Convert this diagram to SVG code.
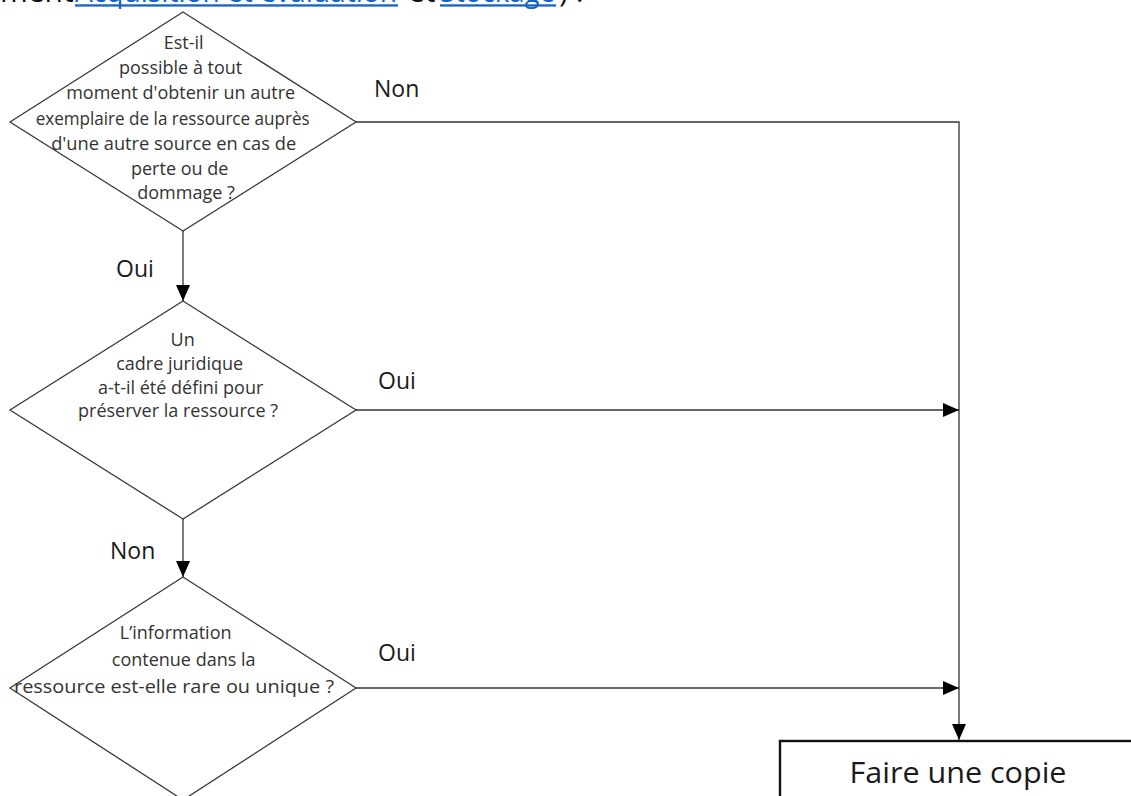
<svg xmlns="http://www.w3.org/2000/svg" width="1131" height="796" viewBox="0 0 1131 796">
  <style>
    .shape { fill: #ffffff; stroke: #3a3a3a; stroke-width: 1.3; }
    .box { fill: #ffffff; stroke: #111111; stroke-width: 2.4; }
    .q { font-family: "Open Sans", "Liberation Sans", sans-serif; font-size: 18px; fill: #333333; text-anchor: middle; }
    .lbl { font-family: "Open Sans", "Liberation Sans", sans-serif; font-size: 23px; fill: #1a1a1a; }
    .big { font-family: "Open Sans", "Liberation Sans", sans-serif; font-size: 30px; fill: #1a1a1a; text-anchor: middle; }
    .top { font-family: "Open Sans", "Liberation Sans", sans-serif; font-size: 30px; fill: #111111; }
    .link { fill: #1565c0; }
    .edge { fill: none; stroke: #333333; stroke-width: 1.3; }
  </style>
  <defs>
    <marker id="arrow" viewBox="0 0 16 14" refX="16" refY="7" markerWidth="16" markerHeight="14" markerUnits="userSpaceOnUse" orient="auto">
      <path d="M0,0 L16,7 L0,14 Z" fill="#000000"/>
    </marker>
  </defs>

  <rect width="1131" height="796" fill="#ffffff"/>

  <!-- running text above the chart, clipped by the top edge -->
  <g id="header">
    <text class="top" x="0" y="2">ment</text>
    <text class="top link" x="75" y="2" textLength="322" lengthAdjust="spacingAndGlyphs">Acquisition et évaluation</text>
    <rect class="link" x="75" y="4.3" width="323" height="2.3"/>
    <text class="top" x="408" y="2">et</text>
    <text class="top link" x="440" y="2" textLength="115" lengthAdjust="spacingAndGlyphs">Stockage</text>
    <rect class="link" x="440" y="4.3" width="116" height="2.3"/>
    <text class="top" x="559" y="2">) :</text>
  </g>

  <!-- decision 1 -->
  <g id="q1">
    <polygon class="shape" points="183,12 356,122 183,231 10,122"/>
    <text class="q">
      <tspan x="186" y="49">Est-il</tspan>
      <tspan x="183" y="74">possible à tout</tspan>
      <tspan x="183" y="99">moment d'obtenir un autre</tspan>
      <tspan x="175" y="125" textLength="274" lengthAdjust="spacingAndGlyphs">exemplaire de la ressource auprès</tspan>
      <tspan x="176" y="150" textLength="245" lengthAdjust="spacingAndGlyphs">d'une autre source en cas de</tspan>
      <tspan x="182" y="175">perte ou de</tspan>
      <tspan x="186" y="199">dommage ?</tspan>
    </text>
  </g>

  <!-- decision 2 -->
  <g id="q2">
    <polygon class="shape" points="183,301 356,410 183,519 10,410"/>
    <text class="q">
      <tspan x="185" y="346">Un</tspan>
      <tspan x="182" y="370">cadre juridique</tspan>
      <tspan x="183" y="394">a-t-il été défini pour</tspan>
      <tspan x="178" y="417">préserver la ressource ?</tspan>
    </text>
  </g>

  <!-- decision 3 -->
  <g id="q3">
    <polygon class="shape" points="183,577 356,688 183,800 10,688"/>
    <text class="q">
      <tspan x="178" y="639">L’information</tspan>
      <tspan x="186" y="666">contenue dans la</tspan>
      <tspan x="174" y="693" textLength="320" lengthAdjust="spacingAndGlyphs">ressource est-elle rare ou unique ?</tspan>
    </text>
  </g>

  <!-- action -->
  <g id="copy">
    <rect class="box" x="780" y="741" width="370" height="80"/>
    <text class="big" x="958" y="783" textLength="217" lengthAdjust="spacingAndGlyphs">Faire une copie</text>
  </g>

  <!-- connectors -->
  <g id="connectors">
    <path class="edge" d="M183,231 L183,301" marker-end="url(#arrow)"/>
    <path class="edge" d="M183,519 L183,577" marker-end="url(#arrow)"/>
    <path class="edge" d="M356,122 L959,122 L959,740" marker-end="url(#arrow)"/>
    <path class="edge" d="M356,410 L959,410" marker-end="url(#arrow)"/>
    <path class="edge" d="M356,688 L959,688" marker-end="url(#arrow)"/>
  </g>

  <!-- connector labels -->
  <g id="labels">
    <text class="lbl" x="374" y="97">Non</text>
    <text class="lbl" x="116" y="277">Oui</text>
    <text class="lbl" x="378" y="389">Oui</text>
    <text class="lbl" x="110" y="559">Non</text>
    <text class="lbl" x="378" y="661">Oui</text>
  </g>
</svg>
